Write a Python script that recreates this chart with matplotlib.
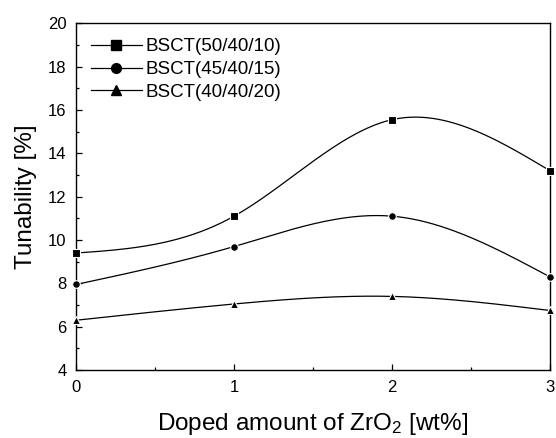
import numpy as np
import matplotlib
matplotlib.use("Agg")
import matplotlib.pyplot as plt

plt.rcParams['font.family'] = ['Liberation Sans', 'DejaVu Sans']
plt.rcParams['mathtext.default'] = 'regular'

x = [0, 1, 2, 3]
series_names = ["BSCT(50/40/10)", "BSCT(45/40/15)", "BSCT(40/40/20)"]
bsct_50 = [9.4, 11.1, 15.55, 13.2]
bsct_45 = [7.95, 9.7, 11.1, 8.3]
bsct_40 = [6.3, 7.05, 7.4, 6.75]
markers = ["s", "o", "^"]


def natural_spline(xs, ys, n=200):
    xs = np.asarray(xs, float); ys = np.asarray(ys, float)
    k = len(xs)
    h = np.diff(xs)
    A = np.zeros((k, k)); b = np.zeros(k)
    A[0, 0] = 1; A[-1, -1] = 1
    for i in range(1, k - 1):
        A[i, i - 1] = h[i - 1]; A[i, i] = 2 * (h[i - 1] + h[i]); A[i, i + 1] = h[i]
        b[i] = 3 * ((ys[i + 1] - ys[i]) / h[i] - (ys[i] - ys[i - 1]) / h[i - 1])
    c = np.linalg.solve(A, b)
    xx = np.linspace(xs[0], xs[-1], n)
    yy = np.empty_like(xx)
    for j, t in enumerate(xx):
        i = min(np.searchsorted(xs, t, side='right') - 1, k - 2)
        bi = (ys[i + 1] - ys[i]) / h[i] - h[i] * (c[i + 1] + 2 * c[i]) / 3
        di = (c[i + 1] - c[i]) / (3 * h[i])
        d = t - xs[i]
        yy[j] = ys[i] + bi * d + c[i] * d ** 2 + di * d ** 3
    return xx, yy


fig = plt.figure(figsize=(5.56, 4.38), dpi=100)
ax = fig.add_axes([0.137, 0.155, 0.852, 0.792])

for ys, m, name in zip([bsct_50, bsct_45, bsct_40], markers, series_names):
    xx, yy = natural_spline(x, ys)
    ax.plot(xx, yy, color='black', lw=0.9)
    ax.plot(x, ys, linestyle='none', marker=m, color='black', ms=5.5,
            markeredgecolor='white', markeredgewidth=0.8, clip_on=False, zorder=3)
    ax.plot([], [], color='black', lw=0.9, marker=m, ms=7, label=name)

ax.set_xlim(0, 3)
ax.set_ylim(4, 20)
ax.set_xticks([0, 1, 2, 3])
ax.set_xticks([0.5, 1.5, 2.5], minor=True)
ax.set_yticks(range(4, 21, 2))
ax.set_yticks(range(5, 20, 2), minor=True)
ax.tick_params(direction='in', labelsize=12, length=4, width=0.9, pad=7)
ax.tick_params(which='minor', direction='in', length=2.5, width=0.9)
for s in ax.spines.values():
    s.set_linewidth(1.0)

ax.set_xlabel('Doped amount of ZrO$_2$ [wt%]', fontsize=17.5, labelpad=12)
ax.set_ylabel('Tunability [%]', fontsize=17.5, labelpad=8)

ax.legend(loc='upper left', frameon=False, fontsize=13.5, handlelength=2.7,
          handletextpad=0.2, labelspacing=0.3, borderaxespad=0.4,
          bbox_to_anchor=(0.0, 1.0))

fig.savefig('out.png', dpi=100)
